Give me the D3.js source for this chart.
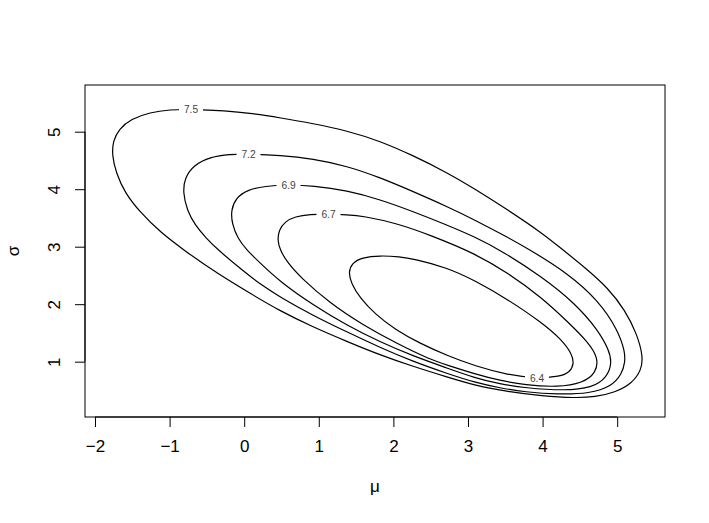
<!DOCTYPE html>
<html>
<head>
<meta charset="utf-8">
<script src="https://cdn.jsdelivr.net/npm/d3@7"></script>
<style>
html,body{margin:0;padding:0;background:#fff;}
svg{display:block;font-family:"Liberation Sans",Arial,Helvetica,sans-serif;}
</style>
</head>
<body>
<svg id="chart" width="709" height="523"></svg>
<script>
// ---- data ----
const levels = ["7.5", "7.2", "6.9", "6.7", "6.4"];

const mu75 = [-0.713,-0.257,0.105,0.480,0.922,1.378,1.820,2.263,2.718,3.094,3.536,3.992,4.273,4.568,4.877,5.105,5.265,5.346,5.326,5.198,4.971,4.702,4.434,3.992,3.536,3.094,2.718,2.263,1.820,1.378,0.922,0.480,0.105,-0.351,-0.794,-1.129,-1.397,-1.598,-1.718,-1.772,-1.759,-1.678,-1.517,-1.263,-0.995];
const sg75 = [5.390,5.367,5.317,5.242,5.143,5.016,4.838,4.586,4.290,4.003,3.638,3.238,2.943,2.638,2.282,1.899,1.482,1.099,0.856,0.621,0.464,0.386,0.369,0.403,0.478,0.586,0.734,0.917,1.117,1.351,1.603,1.882,2.169,2.525,2.925,3.256,3.603,3.934,4.282,4.595,4.838,5.047,5.221,5.337,5.384];

const mu72 = [0.058,0.480,0.922,1.378,1.820,2.263,2.718,3.094,3.536,3.858,4.340,4.743,5.011,5.105,5.105,5.064,4.924,4.635,4.206,3.764,3.429,3.094,2.718,2.263,1.820,1.378,0.922,0.480,0.239,-0.029,-0.351,-0.512,-0.660,-0.767,-0.820,-0.800,-0.673,-0.458,-0.190];
const sg72 = [4.612,4.591,4.529,4.403,4.203,3.960,3.699,3.464,3.160,2.925,2.534,2.073,1.551,1.169,0.995,0.786,0.569,0.447,0.430,0.473,0.543,0.638,0.795,1.003,1.247,1.517,1.803,2.125,2.325,2.595,2.943,3.151,3.377,3.638,3.934,4.195,4.421,4.560,4.607];

const mu69 = [0.594,0.922,1.378,1.820,2.263,2.718,3.094,3.456,3.988,4.434,4.743,4.890,4.930,4.863,4.662,4.300,3.764,3.429,3.094,2.718,2.263,1.820,1.378,0.922,0.480,0.212,0.034,-0.083,-0.164,-0.177,-0.110,0.038,0.279];
const sg69 = [4.073,4.061,3.977,3.821,3.612,3.377,3.169,2.925,2.478,2.016,1.551,1.203,0.977,0.725,0.543,0.496,0.543,0.612,0.717,0.890,1.099,1.343,1.630,1.986,2.391,2.717,2.943,3.134,3.395,3.638,3.847,3.986,4.056];

const mu67 = [1.130,1.378,1.592,2.044,2.491,3.094,3.536,3.988,4.340,4.609,4.749,4.716,4.542,4.206,3.764,3.429,3.094,2.718,2.491,2.044,1.592,1.150,0.748,0.574,0.480,0.446,0.466,0.547,0.681,0.882];
const sg67 = [3.569,3.555,3.534,3.407,3.203,2.882,2.543,2.117,1.690,1.343,1.064,0.803,0.630,0.555,0.595,0.673,0.786,0.943,1.038,1.317,1.638,2.016,2.473,2.734,2.943,3.117,3.290,3.438,3.525,3.563];

const mu64 = [3.925,3.536,3.094,2.718,2.357,2.021,1.753,1.552,1.432,1.398,1.445,1.579,1.820,2.088,2.263,2.718,3.094,3.536,3.988,4.260,4.394,4.421,4.367,4.233];
const sg64 = [0.708,0.769,0.925,1.108,1.317,1.560,1.830,2.108,2.369,2.560,2.717,2.812,2.847,2.824,2.790,2.638,2.412,2.082,1.682,1.377,1.134,0.960,0.821,0.739];

const xTicks = [-2, -1, 0, 1, 2, 3, 4, 5];
const yTicks = [1, 2, 3, 4, 5];
const xTickLabels = ["\u22122", "\u22121", "0", "1", "2", "3", "4", "5"];
const yTickLabels = ["1", "2", "3", "4", "5"];
const xTitle = "\u03bc";
const yTitle = "\u03c3";

// ---- layout ----
const W = 709, H = 523;
const margin = {left: 85, right: 44, top: 85, bottom: 106};
const xDomain = [-2.134, 5.641];
const yDomain = [0.038, 5.812];

const svg = d3.select("#chart");
const x = d3.scaleLinear().domain(xDomain).range([margin.left, W - margin.right]);
const y = d3.scaleLinear().domain(yDomain).range([H - margin.bottom, margin.top]);

const contours = [
  {level: levels[0], mu: mu75, sg: sg75},
  {level: levels[1], mu: mu72, sg: sg72},
  {level: levels[2], mu: mu69, sg: sg69},
  {level: levels[3], mu: mu67, sg: sg67},
  {level: levels[4], mu: mu64, sg: sg64}
];

const line = d3.line()
  .x(d => x(d[0]))
  .y(d => y(d[1]))
  .curve(d3.curveBasisClosed);

const g = svg.append("g");
g.selectAll("path.contour")
  .data(contours)
  .join("path")
  .attr("class", "contour")
  .attr("d", c => line(c.mu.map((m, i) => [m, c.sg[i]])))
  .attr("fill", "none")
  .attr("stroke", "#000")
  .attr("stroke-width", 1.2);

// labels: gap in the line, then text (placed at the first point of each contour)
const labFont = 10.2;
const lab = g.selectAll("g.lab")
  .data(contours)
  .join("g")
  .attr("class", "lab")
  .attr("transform", c => `translate(${x(c.mu[0])},${y(c.sg[0])})`);
lab.append("rect")
  .attr("x", -12).attr("y", -3).attr("width", 24).attr("height", 6)
  .attr("fill", "#fff");
lab.append("text")
  .attr("text-anchor", "middle")
  .attr("dy", "0.36em")
  .attr("font-size", labFont)
  .attr("fill", "#444")
  .text(c => c.level);

// box
svg.append("rect")
  .attr("x", margin.left).attr("y", margin.top)
  .attr("width", W - margin.left - margin.right)
  .attr("height", H - margin.top - margin.bottom)
  .attr("fill", "none").attr("stroke", "#000").attr("stroke-width", 1);

// x axis
const xAxis = d3.axisBottom(x).tickValues(xTicks).tickSize(10).tickPadding(13)
  .tickFormat((d, i) => xTickLabels[i]);
const gx = svg.append("g").attr("transform", `translate(0,${H - margin.bottom})`).call(xAxis);
gx.select(".domain").attr("d", `M${x(xTicks[0])},0H${x(xTicks[xTicks.length-1])}`);
gx.selectAll("text").attr("font-size", 17).attr("fill", "#000").attr("font-family", "Liberation Sans, Arial, sans-serif");
gx.selectAll("line").attr("stroke", "#000");

// y axis
const yAxis = d3.axisLeft(y).tickValues(yTicks).tickSize(10).tickPadding(8)
  .tickFormat((d, i) => yTickLabels[i]);
const gy = svg.append("g").attr("transform", `translate(${margin.left},0)`).call(yAxis);
gy.select(".domain").attr("d", `M0,${y(yTicks[0])}V${y(yTicks[yTicks.length-1])}`);
gy.selectAll("line").attr("stroke", "#000");
gy.selectAll("text")
  .attr("font-size", 17).attr("fill", "#000").attr("font-family", "Liberation Sans, Arial, sans-serif")
  .attr("text-anchor", "middle")
  .attr("x", null).attr("dy", null)
  .attr("transform", "translate(-31,0) rotate(-90)")
  .attr("y", 0)
  .attr("dy", "0.36em");

// titles
svg.append("text")
  .attr("x", (margin.left + W - margin.right) / 2)
  .attr("y", 492)
  .attr("text-anchor", "middle")
  .attr("font-size", 17)
  .text(xTitle);
svg.append("text")
  .attr("transform", `translate(19,${(margin.top + H - margin.bottom) / 2}) rotate(-90)`)
  .attr("text-anchor", "middle")
  .attr("font-size", 17)
  .text(yTitle);
</script>
</body>
</html>
